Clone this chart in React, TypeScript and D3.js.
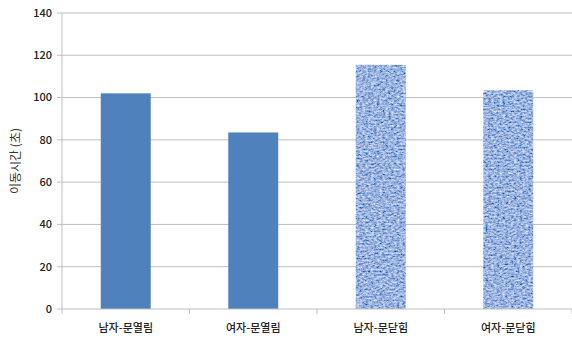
import React from "react";
import * as d3 from "d3";

const categories = ["남자-문열림", "여자-문열림", "남자-문닫힘", "여자-문닫힘"];
const values = [102, 83.5, 115.5, 103.5];
const yTicks = [0, 20, 40, 60, 80, 100, 120, 140];
const yLabel = "이동시간 (초)";

const W = 572;
const H = 338;
const left = 62;
const right = 572;
const top = 13;
const bottom = 309;

export default function App() {
  const x = d3
    .scaleBand<string>()
    .domain(categories)
    .range([left, right])
    .paddingInner(0.608)
    .paddingOuter(0.304);
  const y = d3.scaleLinear().domain([0, 140]).range([bottom, top]);
  const step = x.step();
  const boundaries = d3.range(categories.length + 1).map((i) => left + i * step);
  const font = "'Noto Sans CJK KR', 'Noto Sans', sans-serif";

  return (
    <div style={{ position: "absolute", left: 0, top: 0 }}>
      <svg width={W} height={H} style={{ display: "block", background: "#fff" }}>
        <defs>
          <filter id="tex" x="0" y="0" width="100%" height="100%">
            <feTurbulence type="fractalNoise" baseFrequency="0.35 0.55" numOctaves={3} seed={11} result="n" />
            <feColorMatrix
              in="n"
              type="matrix"
              values="1.1 0 0 0 -0.22  1.0 0 0 0 -0.05  0.75 0 0 0 0.36  0 0 0 0 1"
              result="c"
            />
            <feComposite in="c" in2="SourceGraphic" operator="in" />
          </filter>
        </defs>
        {yTicks.map((t) => (
          <g key={t}>
            {t > 0 && (
              <line x1={left} x2={right} y1={y(t)} y2={y(t)} stroke="#bfbfbf" strokeWidth={1} />
            )}
            <line x1={left - 5} x2={left} y1={y(t)} y2={y(t)} stroke="#bfbfbf" strokeWidth={1} />
            <text
              x={left - 10}
              y={y(t)}
              dy="0.35em"
              textAnchor="end"
              fontFamily={font}
              fontSize={11}
              fontWeight={500}
              fill="#222"
            >
              {t}
            </text>
          </g>
        ))}
        <line x1={left} x2={left} y1={top} y2={bottom} stroke="#bfbfbf" strokeWidth={1} />
        {categories.map((c, i) => {
          const textured = c.includes("문닫힘");
          return (
            <rect
              key={c}
              x={x(c)}
              y={y(values[i])}
              width={x.bandwidth()}
              height={bottom - y(values[i])}
              fill={textured ? "#6a8cc8" : "#4f81bd"}
              filter={textured ? "url(#tex)" : undefined}
            />
          );
        })}
        <line x1={left} x2={right} y1={bottom} y2={bottom} stroke="#bfbfbf" strokeWidth={1} />
        {boundaries.map((b, i) => (
          <line key={i} x1={b} x2={b} y1={bottom} y2={bottom + 5} stroke="#bfbfbf" strokeWidth={1} />
        ))}
        {categories.map((c) => (
          <text
            key={c}
            x={(x(c) as number) + x.bandwidth() / 2}
            y={328}
            dy="0.35em"
            textAnchor="middle"
            fontFamily={font}
            fontSize={11}
            fontWeight={500}
            fill="#222"
          >
            {c}
          </text>
        ))}
        <text
          transform={`translate(16, ${(top + bottom) / 2}) rotate(-90)`}
          textAnchor="middle"
          dy="0.35em"
          fontFamily={font}
          fontSize={12}
          fill="#333"
        >
          {yLabel}
        </text>
      </svg>
    </div>
  );
}
